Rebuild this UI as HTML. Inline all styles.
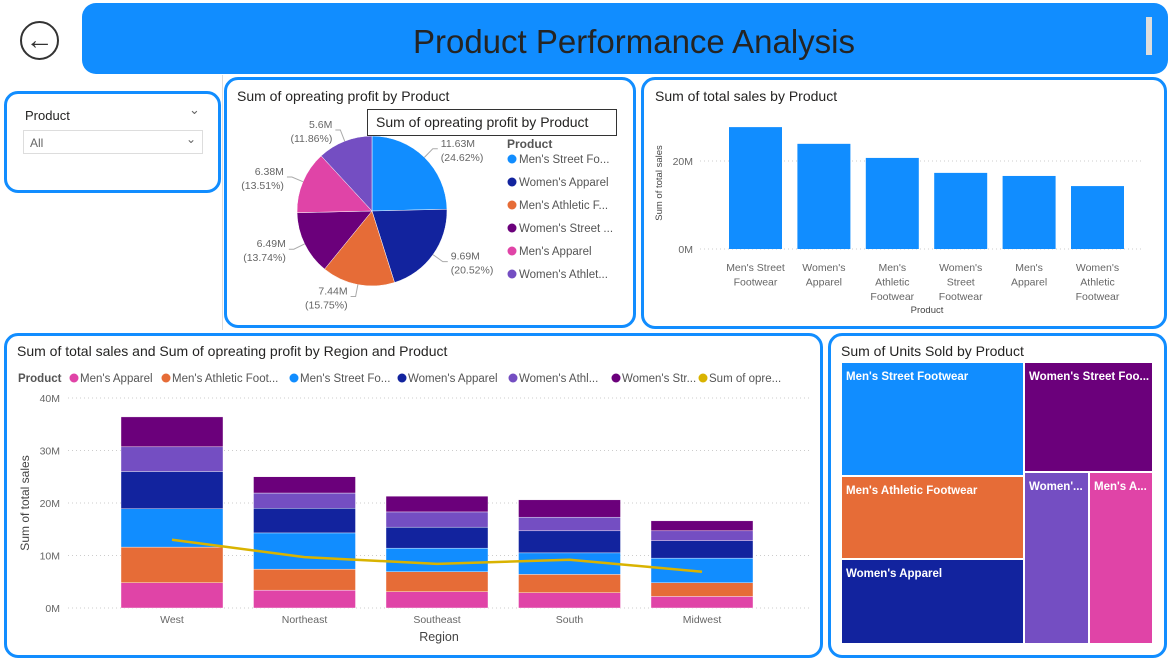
<!DOCTYPE html>
<html><head><meta charset="utf-8">
<style>
body{margin:0;width:1171px;height:660px;background:#fff;font-family:"Liberation Sans",sans-serif;overflow:hidden;position:relative}
.card{position:absolute;border:3px solid #118DFF;border-radius:14px;box-sizing:border-box;background:#fff}
.t{position:absolute;font-size:14px;color:#252423}
svg{position:absolute;left:0;top:0}
</style></head><body>
<div style="position:absolute;left:82px;top:3px;width:1086px;height:71px;background:#118DFF;border-radius:14px"></div>
<div style="position:absolute;left:82px;top:23px;width:1104px;text-align:center;font-size:33px;color:#252423">Product Performance Analysis</div>
<div style="position:absolute;left:1146px;top:17px;width:6px;height:38px;background:#ddd"></div>
<div style="position:absolute;left:20px;top:21px;width:35px;height:35px;border:2.5px solid #333;border-radius:50%;text-align:center;line-height:34px;font-size:28px;font-weight:bold;color:#333">←</div>
<div style="position:absolute;left:222px;top:75px;width:1px;height:255px;background:#ddd"></div>

<div class="card" style="left:4px;top:91px;width:217px;height:102px">
 <div style="position:absolute;left:18px;top:14px;font-size:13px;color:#252423">Product</div>
 <div style="position:absolute;left:182px;top:8px;font-size:13px;color:#666">⌄</div>
 <div style="position:absolute;left:16px;top:36px;width:180px;height:24px;border:1px solid #ddd;font-size:12px;color:#666;line-height:24px;padding-left:6px;box-sizing:border-box">All<span style="position:absolute;right:6px;top:-4px">⌄</span></div>
</div>

<div class="card" style="left:224px;top:77px;width:412px;height:251px"></div>
<div class="card" style="left:641px;top:77px;width:526px;height:252px"></div>
<div class="card" style="left:4px;top:333px;width:819px;height:325px"></div>
<div class="card" style="left:828px;top:333px;width:339px;height:325px"></div>

<div class="t" style="left:237px;top:88px">Sum of opreating profit by Product</div>
<div class="t" style="left:655px;top:88px">Sum of total sales by Product</div>
<div class="t" style="left:17px;top:343px">Sum of total sales and Sum of opreating profit by Region and Product</div>
<div class="t" style="left:841px;top:343px">Sum of Units Sold by Product</div>

<svg id="s" width="1171" height="660" font-family="Liberation Sans, sans-serif"></svg>
<div style="position:absolute;left:367px;top:109px;width:250px;height:27px;border:1px solid #333;background:#fff;box-sizing:border-box;font-size:14px;color:#252423;line-height:25px;padding-left:8px">Sum of opreating profit by Product</div>

<script>
const NS='http://www.w3.org/2000/svg';
const svg=document.getElementById('s');
function mk(tag,attrs,txt){const e=document.createElementNS(NS,tag);for(const k in attrs)e.setAttribute(k,attrs[k]);if(txt!==undefined)e.textContent=txt;svg.appendChild(e);return e;}

// ---------- Pie data ----------
const pieProducts=["Men's Street Footwear","Women's Apparel","Men's Athletic Footwear","Women's Street Footwear","Men's Apparel","Women's Athletic Footwear"];
const pieLegend=["Men's Street Fo...","Women's Apparel","Men's Athletic F...","Women's Street ...","Men's Apparel","Women's Athlet..."];
const pieValues=[11.63,9.69,7.44,6.49,6.38,5.6];
const pieColors=['#118DFF','#12239E','#E66C37','#6B007B','#E044A7','#744EC2'];

const pcx=372,pcy=211,pr=75;
const ptot=pieValues.reduce((a,b)=>a+b,0);
let ang=-Math.PI/2;
pieValues.forEach((v,i)=>{
  const a2=ang+v/ptot*Math.PI*2;
  const x1=pcx+pr*Math.cos(ang),y1=pcy+pr*Math.sin(ang),x2=pcx+pr*Math.cos(a2),y2=pcy+pr*Math.sin(a2);
  const p=mk('path',{d:`M${pcx},${pcy}L${x1},${y1}A${pr},${pr} 0 ${a2-ang>Math.PI?1:0} 1 ${x2},${y2}Z`,fill:pieColors[i],stroke:'#fff','stroke-width':0.5});
  
  
  const mid=(ang+a2)/2;
  const lx=pcx+(pr+12)*Math.cos(mid),ly=pcy+(pr+12)*Math.sin(mid);
  const right=Math.cos(mid)>0;
  const pct=(v/ptot*100).toFixed(2);
  const lab=v.toFixed(2).replace(/0$/,'').replace(/\.$/,'')+'M';
  const tx=right?lx+8:lx-8;
  const ln=mk('path',{d:`M${pcx+pr*Math.cos(mid)},${pcy+pr*Math.sin(mid)}L${lx},${ly}L${tx+(right?-3:3)},${ly}`,stroke:'#aaa',fill:'none'});
  
  
  const t=mk('text',{x:tx,y:ly-2,'font-size':10.5,fill:'#666','text-anchor':right?'start':'end'});
  
  
  const s1=document.createElementNS(NS,'tspan');s1.textContent=lab;s1.setAttribute('x',tx);t.appendChild(s1);
  const s2=document.createElementNS(NS,'tspan');s2.textContent='('+pct+'%)';s2.setAttribute('x',tx);s2.setAttribute('dy',14);t.appendChild(s2);
  ang=a2;
});
const plt=mk('text',{x:507,y:148,'font-size':12,'font-weight':'bold',fill:'#555'},'Product');


pieLegend.forEach((n,i)=>{
  const y=163+i*23;
  const c=mk('circle',{cx:512,cy:y-4,r:4.5,fill:pieColors[i]});
  
  
  const t=mk('text',{x:519,y:y,'font-size':11.5,fill:'#555'},n);
  
  
});

// ---------- Bar chart (top right) ----------
const barCats=[["Men's Street","Footwear"],["Women's","Apparel"],["Men's","Athletic","Footwear"],["Women's","Street","Footwear"],["Men's","Apparel"],["Women's","Athletic","Footwear"]];
const barValues=[27.7,23.9,20.7,17.3,16.6,14.3];
const barTicks=[0,20];
const bY=v=>249-v*4.4;
const bX=i=>729+i*68.4;
barTicks.forEach(v=>{
  const l=mk('line',{x1:700,x2:1142,y1:bY(v),y2:bY(v),stroke:'#ccc','stroke-dasharray':'1 3'});
  
  
  const t=mk('text',{x:693,y:bY(v)+4,'font-size':10.5,fill:'#666','text-anchor':'end'},v+'M');
  
  
});
barValues.forEach((v,i)=>{
  const r=mk('rect',{x:bX(i),y:bY(v),width:53,height:bY(0)-bY(v),fill:'#118DFF'});
  
  
  barCats[i].forEach((w,j)=>{
    const t=mk('text',{x:bX(i)+26.5,y:271+j*14.5,'font-size':10.5,fill:'#666','text-anchor':'middle'},w);
    
    
  });
});
const bxt=mk('text',{x:927,y:313,'font-size':9.5,fill:'#444','text-anchor':'middle'},'Product');


const byt=mk('text',{x:0,y:0,'font-size':9.5,fill:'#444','text-anchor':'middle',transform:'translate(662,183) rotate(-90)'},'Sum of total sales');



// ---------- Combo chart ----------
const regions=['West','Northeast','Southeast','South','Midwest'];
const stackOrder=["Men's Apparel","Men's Athletic Footwear","Men's Street Footwear","Women's Apparel","Women's Athletic Footwear","Women's Street Footwear"];
const stackColors=['#E044A7','#E66C37','#118DFF','#12239E','#744EC2','#6B007B'];
const mensApparel=[4.8,3.4,3.1,2.9,2.2];
const mensAthletic=[6.8,4.0,3.8,3.5,2.6];
const mensStreet=[7.3,6.9,4.5,4.1,4.7];
const womensApparel=[7.1,4.7,4.0,4.2,3.3];
const womensAthletic=[4.7,2.9,2.9,2.6,1.9];
const womensStreet=[5.7,3.1,3.0,3.3,1.9];
const profitLine=[13.0,9.7,8.4,9.2,6.9];
const comboTicks=[0,10,20,30,40];
const series=[mensApparel,mensAthletic,mensStreet,womensApparel,womensAthletic,womensStreet];
const cY=v=>608-v*5.25;
const cX=i=>172+i*132.5;
comboTicks.forEach(v=>{
  const l=mk('line',{x1:68,x2:812,y1:cY(v),y2:cY(v),stroke:'#ccc','stroke-dasharray':'1 3'});
  
  
  const t=mk('text',{x:60,y:cY(v)+4,'font-size':10.5,fill:'#666','text-anchor':'end'},v+'M');
  
  
});
regions.forEach((r,i)=>{
  let base=0;
  series.forEach((s,k)=>{
    const v=s[i];
    const rc=mk('rect',{x:cX(i)-51,y:cY(base+v),width:102,height:cY(base)-cY(base+v),fill:stackColors[k],stroke:'#fff','stroke-width':0.4});
    
    
    base+=v;
  });
  const t=mk('text',{x:cX(i),y:623,'font-size':10.5,fill:'#666','text-anchor':'middle'},r);
  
  
});
const pl=mk('polyline',{points:profitLine.map((v,i)=>cX(i)+','+cY(v)).join(' '),fill:'none',stroke:'#D9B300','stroke-width':2.5});


const cxt=mk('text',{x:439,y:641,'font-size':12.5,fill:'#444','text-anchor':'middle'},'Region');


const cyt=mk('text',{x:0,y:0,'font-size':12,fill:'#444','text-anchor':'middle',transform:'translate(29,503) rotate(-90)'},'Sum of total sales');


const comboLegend=["Men's Apparel","Men's Athletic Foot...","Men's Street Fo...","Women's Apparel","Women's Athl...","Women's Str...","Sum of opre..."];
const comboLegendColors=[...stackColors,'#D9B300'];
const comboLegendX=[74,166,294,402,513,616,703];
const clt=mk('text',{x:18,y:382,'font-size':11.5,'font-weight':'bold',fill:'#555'},'Product');


comboLegend.forEach((n,i)=>{
  const c=mk('circle',{cx:comboLegendX[i],cy:378,r:4.5,fill:comboLegendColors[i]});
  
  
  const t=mk('text',{x:comboLegendX[i]+6,y:382,'font-size':11.5,fill:'#555'},n);
  
  
});

// ---------- Treemap ----------
const tmLabels=["Men's Street Footwear","Men's Athletic Footwear","Women's Apparel","Women's Street Foo...","Women'...","Men's A..."];
const tmColors=['#118DFF','#E66C37','#12239E','#6B007B','#744EC2','#E044A7'];
const tmRects=[[842,363,181,112],[842,477,181,81],[842,560,181,83],[1025,363,127,108],[1025,473,63,170],[1090,473,62,170]];
tmRects.forEach((r,i)=>{
  const rc=mk('rect',{x:r[0],y:r[1],width:r[2],height:r[3],fill:tmColors[i]});
  
  
  const t=mk('text',{x:r[0]+4,y:r[1]+17,'font-size':11.5,'font-weight':'bold',fill:'#fff'},tmLabels[i]);
  
  
});
</script>
</body></html>
